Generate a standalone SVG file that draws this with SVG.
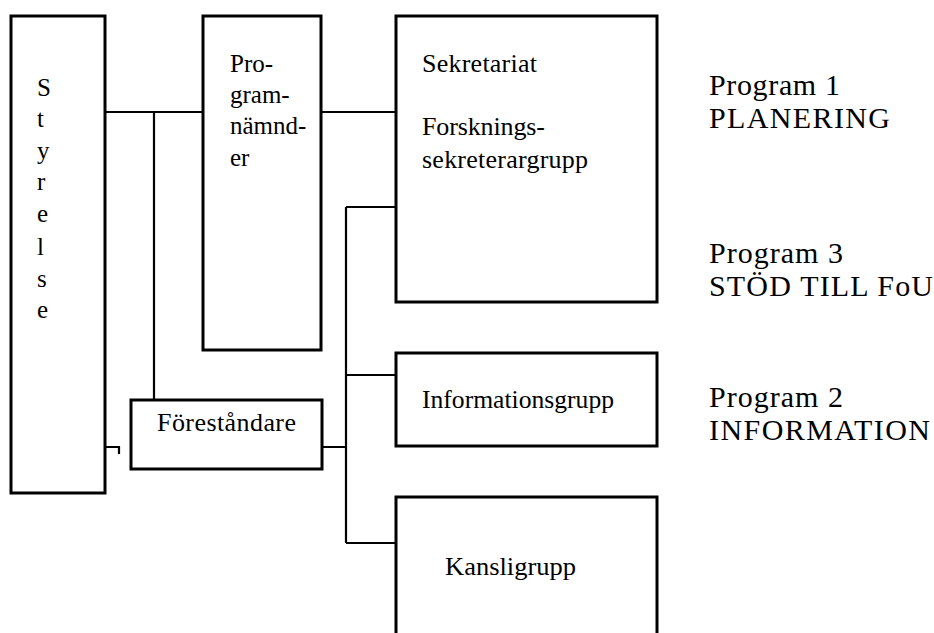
<svg xmlns="http://www.w3.org/2000/svg" width="934" height="633" viewBox="0 0 934 633" font-family="Liberation Serif, serif">
<style>
.box{fill:#fff;stroke:#000;stroke-width:3}
.ln{fill:none;stroke:#000;stroke-width:2.2}
</style>
<rect width="934" height="633" fill="#fff"/>
<g id="connectors">
<path class="ln" d="M105 112H203M154 112V400M321 112H396M346 207H396M346 207V543M346 375H396M346 543H396M322 447H346"/>
<path class="ln" d="M106 447H119V454"/>
</g>
<g id="styrelse">
<rect class="box" x="11" y="16" width="94" height="477"/>
<text font-family="Liberation Serif" font-size="25"><tspan x="37" y="96">S</tspan><tspan x="37" y="127">t</tspan><tspan x="37" y="159">y</tspan><tspan x="37" y="190">r</tspan><tspan x="37" y="222">e</tspan><tspan x="37" y="255">l</tspan><tspan x="37" y="287">s</tspan><tspan x="37" y="318">e</tspan></text>
</g>
<g id="programnamnder">
<rect class="box" x="203" y="16" width="118" height="334"/>
<text font-family="Liberation Serif" font-size="25"><tspan x="230" y="72">Pro-</tspan><tspan x="230" y="103">gram-</tspan><tspan x="230" y="134">nämnd-</tspan><tspan x="230" y="166">er</tspan></text>
</g>
<g id="sekretariat" font-family="Liberation Serif" font-size="26">
<rect class="box" x="396" y="16" width="261" height="286"/>
<text x="422" y="72" textLength="115" lengthAdjust="spacing">Sekretariat</text>
<text x="422" y="135" textLength="123" lengthAdjust="spacing">Forsknings-</text>
<text x="422" y="168" textLength="166" lengthAdjust="spacing">sekreterargrupp</text>
</g>
<g id="forestandare">
<rect class="box" x="131" y="400" width="191" height="69"/>
<text font-family="Liberation Serif" font-size="26" x="157" y="431" textLength="139" lengthAdjust="spacing">Föreståndare</text>
</g>
<g id="informationsgrupp">
<rect class="box" x="396" y="353" width="261" height="93"/>
<text font-family="Liberation Serif" font-size="26" x="422" y="408" textLength="192" lengthAdjust="spacingAndGlyphs">Informationsgrupp</text>
</g>
<g id="kansligrupp">
<rect class="box" x="396" y="497" width="261" height="150"/>
<text font-family="Liberation Serif" font-size="26" x="445" y="575" textLength="131" lengthAdjust="spacingAndGlyphs">Kansligrupp</text>
</g>
<g id="program1" font-family="Liberation Serif" font-size="30">
<text x="709" y="95" textLength="131" lengthAdjust="spacing">Program 1</text>
<text x="709" y="128" textLength="181" lengthAdjust="spacing">PLANERING</text>
</g>
<g id="program3" font-family="Liberation Serif" font-size="30">
<text x="709" y="263" textLength="134" lengthAdjust="spacing">Program 3</text>
<text x="709" y="296" textLength="224" lengthAdjust="spacing">STÖD TILL FoU</text>
</g>
<g id="program2" font-family="Liberation Serif" font-size="30">
<text x="709" y="407" textLength="134" lengthAdjust="spacing">Program 2</text>
<text x="709" y="440" textLength="221" lengthAdjust="spacing">INFORMATION</text>
</g>
</svg>
